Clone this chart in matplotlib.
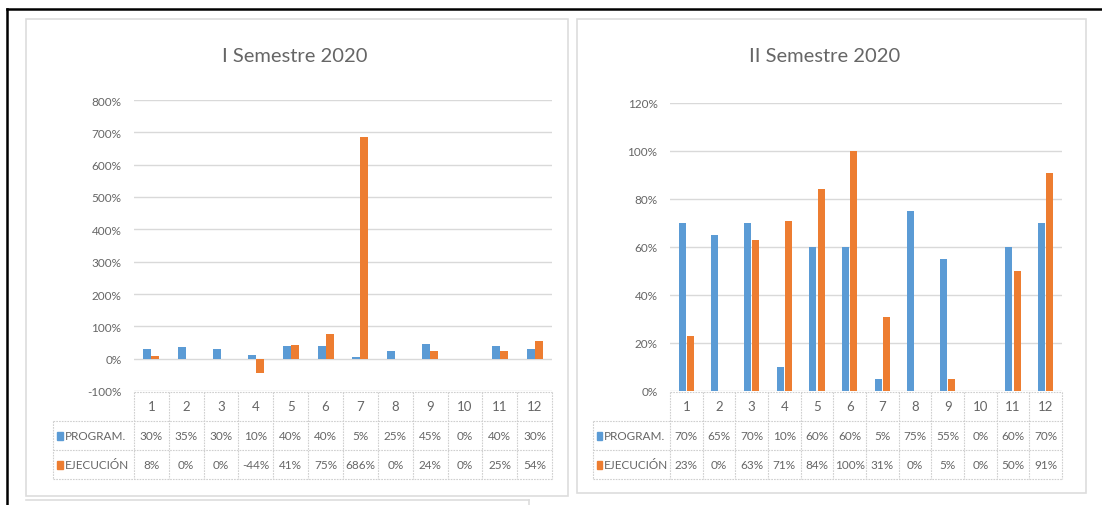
import matplotlib.pyplot as plt
from matplotlib.lines import Line2D
from matplotlib.patches import Rectangle

W, H = 1102, 506

meses = [str(m) for m in range(1, 13)]

prog_s1 = [30, 35, 30, 10, 40, 40, 5, 25, 45, 0, 40, 30]
ejec_s1 = [8, 0, 0, -44, 41, 75, 686, 0, 24, 0, 25, 54]

prog_s2 = [70, 65, 70, 10, 60, 60, 5, 75, 55, 0, 60, 70]
ejec_s2 = [23, 0, 63, 71, 84, 100, 31, 0, 5, 0, 50, 91]

ticks_s1 = [-100, 0, 100, 200, 300, 400, 500, 600, 700, 800]
ticks_s2 = [0, 20, 40, 60, 80, 100, 120]

AZUL = '#5B9BD5'
NARANJA = '#ED7D31'
GRIS_TXT = '#666666'
GRIS_LIN = '#D9D9D9'

plt.rcParams['font.family'] = ['Lato', 'DejaVu Sans']


def rect(x0, y0, x1, y1):
    # caja en pixeles (origen arriba a la izquierda) -> fracción de figura
    return [x0 / W, 1 - y1 / H, (x1 - x0) / W, (y1 - y0) / H]


def grafico(fig, titulo, prog, ejec, ticks, x0, x1, y_top, y_bot, legend_x, title_x, w, off):
    ax = fig.add_axes(rect(x0, y_top, x1, y_bot))
    n = len(meses)
    pos = list(range(n))
    ax.bar([p - off for p in pos], prog, width=w, color=AZUL, zorder=3)
    ax.bar([p + off for p in pos], ejec, width=w, color=NARANJA, zorder=3)
    ax.set_xlim(-0.5, n - 0.5)
    ax.set_ylim(ticks[0], ticks[-1])
    ax.set_yticks(ticks)
    ax.set_yticklabels([f'{t}%' for t in ticks], fontsize=8.5, color=GRIS_TXT)
    ax.set_xticks([])
    ax.tick_params(axis='y', length=0, pad=9)
    ax.yaxis.grid(True, color=GRIS_LIN, lw=1)
    ax.set_axisbelow(True)
    for s in ax.spines.values():
        s.set_visible(False)
    ax.patch.set_alpha(0)

    fig.text(title_x / W, 1 - 57 / H, titulo, fontsize=14.5, color=GRIS_TXT,
             ha='center', va='center')

    # tabla de datos debajo del gráfico
    tb = fig.add_axes(rect(x0, 393, x1, 480))
    tb.set_xlim(-0.5, n - 0.5)
    tb.set_ylim(3, 0)
    tb.axis('off')
    cat_w = (x1 - x0) / n
    izq = -0.5 - (x0 - legend_x) / cat_w
    ls = dict(color='#CFCFCF', lw=0.8, linestyle=(0, (1.5, 1)), clip_on=False)
    tb.add_line(Line2D([-0.5, n - 0.5], [0, 0], **ls))
    for r in (1, 2, 3):
        tb.add_line(Line2D([izq, n - 0.5], [r, r], **ls))
    for k in range(n + 1):
        tb.add_line(Line2D([k - 0.5, k - 0.5], [0, 3], **ls))
    tb.add_line(Line2D([izq, izq], [1, 3], **ls))

    for k in range(n):
        tb.text(k, 0.5, meses[k], ha='center', va='center', fontsize=9.5, color=GRIS_TXT)
        tb.text(k, 1.5, f'{prog[k]}%', ha='center', va='center', fontsize=8.5, color=GRIS_TXT)
        tb.text(k, 2.5, f'{ejec[k]}%', ha='center', va='center', fontsize=8.5, color=GRIS_TXT)

    for r, (nombre, col) in enumerate([('PROGRAM.', AZUL), ('EJECUCIÓN', NARANJA)]):
        tb.add_patch(Rectangle((izq + 0.12, 1.38 + r), 0.16, 0.26, color=col, clip_on=False))
        tb.text(izq + 0.34, 1.5 + r, nombre, ha='left', va='center', fontsize=8.5,
                color=GRIS_TXT, clip_on=False)
    return ax


fig = plt.figure(figsize=(W / 100, H / 100), dpi=100)

# marco exterior
fig.add_artist(Line2D([7 / W, 1], [1 - 10 / H] * 2, color='black', lw=1.8))
fig.add_artist(Line2D([7 / W] * 2, [1 - 10 / H, 0], color='black', lw=1.8))

# paneles de los dos gráficos
for px0, px1, py1 in [(26, 568, 497), (577, 1086, 494)]:
    fig.add_artist(Rectangle((px0 / W, 1 - py1 / H), (px1 - px0) / W, (py1 - 20) / H,
                             fill=False, edgecolor='#DDDDDD', lw=1.2))
fig.add_artist(Line2D([26 / W, 529 / W], [1 - 501 / H] * 2, color='#DDDDDD', lw=1.2))
fig.add_artist(Line2D([529 / W] * 2, [1 - 501 / H, 0], color='#DDDDDD', lw=1.2))

grafico(fig, 'I Semestre 2020', prog_s1, ejec_s1, ticks_s1,
        134, 552, 101, 392, 53, 295, 0.23, 0.115)
grafico(fig, 'II Semestre 2020', prog_s2, ejec_s2, ticks_s2,
        670, 1062, 104, 392, 593, 825, 0.21, 0.13)

fig.savefig('out.png', dpi=100)
